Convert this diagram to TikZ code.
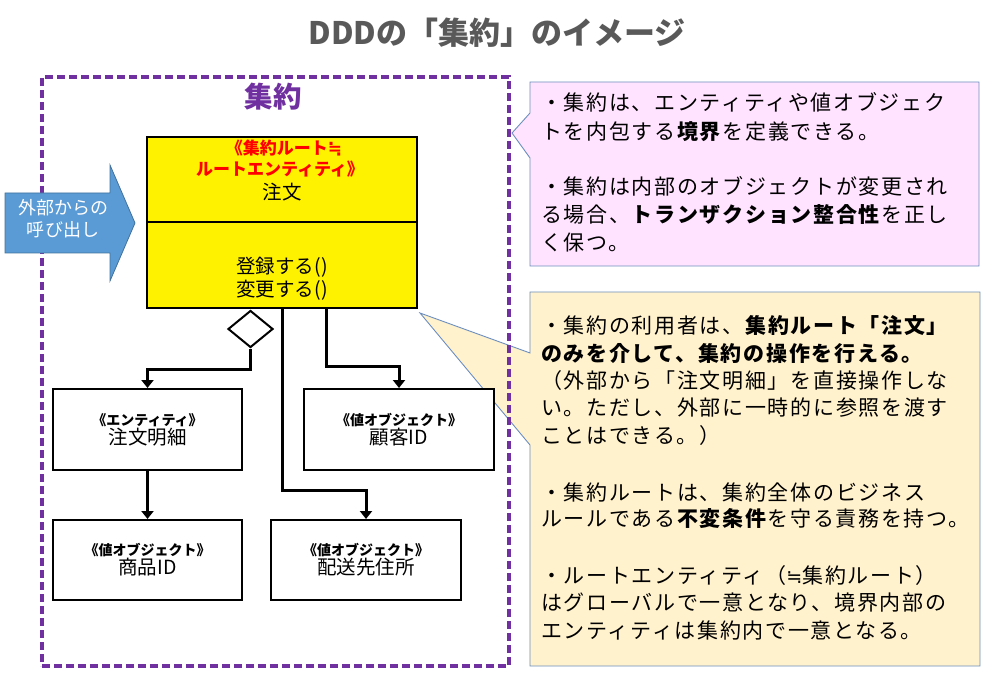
\documentclass[tikz,border=0pt]{standalone}
\usepackage{fontspec}
\setmainfont{Noto Sans CJK JP}
\newfontfamily\cfont{Noto Sans CJK JP}[LetterSpace=8]
\newfontfamily\symfont{DejaVu Sans}
\usetikzlibrary{shapes.geometric,arrows.meta}
\definecolor{titlegray}{HTML}{595959}
\definecolor{aggpurple}{HTML}{7030A0}
\definecolor{pinkfill}{HTML}{FFE3FF}
\definecolor{creamfill}{HTML}{FFF2CC}
\definecolor{calloutline}{HTML}{6C8EBF}
\definecolor{arrowblue}{HTML}{5B9BD5}
\definecolor{arrowedge}{HTML}{41719C}
\definecolor{rootred}{HTML}{FF0000}
\begin{document}
\begin{tikzpicture}[x=1pt,y=-1pt,
  ctext/.style={anchor=base west, inner sep=0, font=\cfont\fontsize{21}{25}\selectfont},
  callout/.style={draw=calloutline, line width=0.9},
  umlbox/.style={draw, line width=2, fill=white, inner sep=0, align=center},
  rootlabel/.style={inner sep=0, font=\bfseries\fontsize{17}{20}\selectfont, text=rootred},
  rootname/.style={inner sep=0, font=\fontsize{19.5}{22}\selectfont},
  conn/.style={line width=3, -{Triangle[width=12pt,length=8pt]}},
  aggbox/.style={draw=aggpurple, line width=3.2, dash pattern=on 8pt off 4pt, inner sep=0},
]
\useasboundingbox (0,0) rectangle (1000,692);

% title
\node[font=\bfseries\fontsize{31}{36}\selectfont, text=titlegray] (title) at (497,33) {DDDの「集約」のイメージ};

% callouts (behind)
\coordinate (pA) at (530,82);
\coordinate (pB) at (979,266);
\coordinate (pTip) at (512,133);
\filldraw[callout, fill=pinkfill] (pA) -- (pA -| pB) -- (pB) -- (pB -| pA) -- (530,158) -- (pTip) -- (530,113) -- cycle;
\coordinate (yA) at (530,292);
\coordinate (yB) at (980,666);
\coordinate (yTip) at (420,313);
\filldraw[callout, fill=creamfill] (yA) -- (yA -| yB) -- (yB) -- (yB -| yA) -- (530,445) -- (yTip) -- (530,353) -- cycle;

% pink text
\node[ctext] (p1) at (541,111) {・集約は、エンティティや値オブジェク};
\node[ctext] (p2) at (541,140) {トを内包する\textbf{境界}を定義できる。};
\node[ctext] (p3) at (541,195) {・集約は内部のオブジェクトが変更され};
\node[ctext] (p4) at (541,223) {る場合、\textbf{トランザクション整合性}を正し};
\node[ctext] (p5) at (541,251) {く保つ。};

% cream text
\node[ctext] (y1) at (541,333) {・集約の利用者は、\textbf{集約ルート「注文」}};
\node[ctext] (y2) at (541,361) {\textbf{のみを介して、集約の操作を行える。}};
\node[ctext] (y3) at (541,388) {（外部から「注文明細」を直接操作しな};
\node[ctext] (y4) at (541,415) {い。ただし、外部に一時的に参照を渡す};
\node[ctext] (y5) at (541,443) {ことはできる。）};
\node[ctext] (y6) at (541,500) {・集約ルートは、集約全体のビジネス};
\node[ctext] (y7) at (541,526) {ルールである\textbf{不変条件}を守る責務を持つ。};
\node[ctext] (y8) at (541,583) {・ルートエンティティ（{\symfont\fontsize{19}{25}\selectfont ≒}集約ルート）};
\node[ctext] (y9) at (541,610) {はグローバルで一意となり、境界内部の};
\node[ctext] (y10) at (541,638) {エンティティは集約内で一意となる。};

% aggregate boundary
\node[aggbox, minimum width=467, minimum height=589] (agg) at (275.5,371.5) {};
\node[font=\bfseries\fontsize{28.5}{32}\selectfont, text=aggpurple] (aggtitle) at (273,97) {集約};

% external call arrow
\filldraw[fill=arrowblue, draw=arrowedge, line width=0.8]
  (5,193) -- (110,193) -- (110,165) -- (135,223) -- (110,281) -- (110,253) -- (5,253) -- cycle;
\node[text=white, align=center, font=\fontsize{18}{22}\selectfont] (callin) at (63,219) {外部からの\\呼び出し};

% aggregate root
\node[draw, line width=1.8, fill=yellow, minimum width=270, minimum height=171, inner sep=0] (root) at (282,222.5) {};
\coordinate (dv) at (0,222);
\draw[line width=1.2] (root.west |- dv) -- (root.east |- dv);
\node[rootlabel] (rl1) at (284,148) {《集約ルート{\symfont\bfseries ≒}};
\node[rootlabel] (rl2) at (280,169) {ルートエンティティ》};
\node[rootname] (rn) at (282,192) {注文};
\node[rootname] (m1) at (282,267) {登録する()};
\node[rootname] (m2) at (282,290) {変更する()};

% diamond
\node[diamond, draw, line width=2, fill=white, minimum width=45, minimum height=37, inner sep=0] (dia) at (250.5,329) {};

% other objects
\node[umlbox, minimum width=189, minimum height=81] (ent) at (147.5,429.5)
  {{\bfseries\fontsize{14}{19}\selectfont 《エンティティ》}\\{\fontsize{19.5}{22}\selectfont 注文明細}};
\node[umlbox, minimum width=190, minimum height=81] (cust) at (399,429.5)
  {{\bfseries\fontsize{14}{19}\selectfont 《値オブジェクト》}\\{\fontsize{19.5}{22}\selectfont 顧客ID}};
\node[umlbox, minimum width=189, minimum height=80] (prod) at (147.5,560)
  {{\bfseries\fontsize{14}{19}\selectfont 《値オブジェクト》}\\{\fontsize{19.5}{22}\selectfont 商品ID}};
\node[umlbox, minimum width=190, minimum height=80] (addr) at (366,560)
  {{\bfseries\fontsize{14}{19}\selectfont 《値オブジェクト》}\\{\fontsize{19.5}{22}\selectfont 配送先住所}};

% connectors
\coordinate (j1) at (250.5,369);
\draw[conn] (dia.south) -- (j1) -| (ent.north);
\coordinate (j2) at (282,490);
\draw[conn] (root.south) -- (j2) -| (addr.north);
\coordinate (j3) at (326,366);
\draw[conn] (j3 |- root.south) -- (j3) -| (cust.north);
\draw[conn] (ent.south) -- (prod.north);
\end{tikzpicture}
\end{document}
